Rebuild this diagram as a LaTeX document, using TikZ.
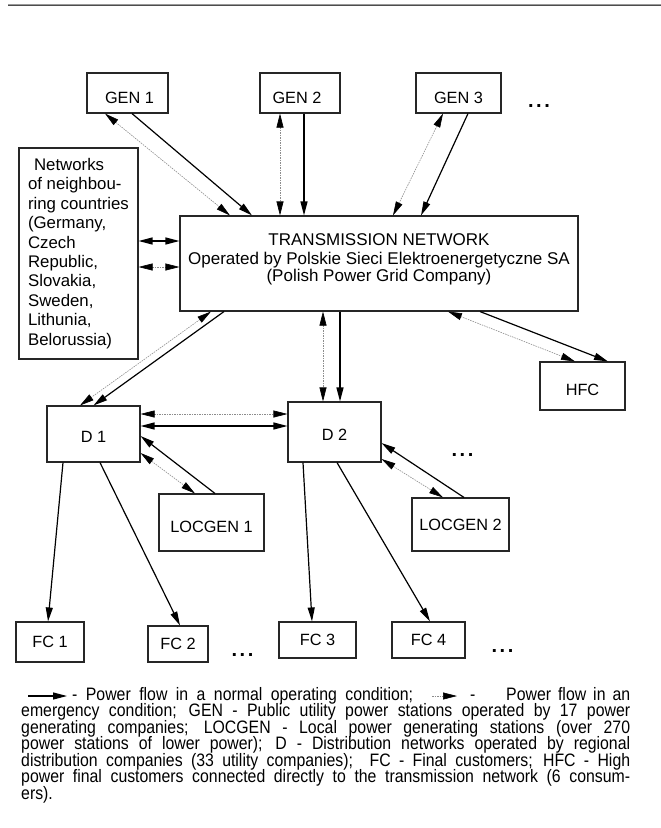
\documentclass[tikz,border=0pt]{standalone}
\usepackage{fontspec}
\setmainfont{Liberation Sans}
\newfontfamily\legfont{Liberation Sans}[FakeStretch=0.88]
\usetikzlibrary{arrows.meta}
\newcommand\lowr[2]{\raisebox{-#1}[\height][\depth]{#2}}
\tikzset{
  hd/.tip={Triangle[length=14pt,width=7pt,color=black,fill=black]},
  box/.style={draw=black!85, line width=1.1pt, inner sep=0pt, text=black,
    font=\fontsize{16.3}{19}\selectfont},
  normal/.style={line width=1.2pt, draw=black},
  emerg/.style={line width=0.6pt, draw=black!45, dash pattern=on 1.5pt off 1pt},
  dots/.style={inner sep=0pt, font=\fontsize{20}{20}\selectfont\bfseries},
  legtext/.style={inner sep=0pt, anchor=base west, font=\legfont\fontsize{18}{16.5}\selectfont},
}
\begin{document}
\begin{tikzpicture}[x=1pt,y=-1pt]
\useasboundingbox (0,0) rectangle (661,828);
% top rule
\draw[black!40, line width=0.8pt] (8,4.2) -- (661,4.2);
\draw[black!70, line width=1pt] (8,5.4) -- (661,5.4);

% boxes
\node[box, minimum width=81pt, minimum height=40pt] (gen1) at (127.5,93) {\lowr{4.5pt}{\hspace*{4pt}GEN 1}};
\node[box, minimum width=80pt, minimum height=40pt] (gen2) at (300,93) {\lowr{4.5pt}{GEN 2\hspace*{6pt}}};
\node[box, minimum width=85pt, minimum height=40pt] (gen3) at (458.5,93) {\lowr{4.5pt}{GEN 3}};
\node[box, minimum width=119pt, minimum height=211pt, align=left,
      font=\fontsize{16.8}{19.4}\selectfont] (net) at (78.5,253.5)
  {\hspace*{6pt}Networks\\of neighbou-\\ring countries\\(Germany,\\Czech\\Republic,\\Slovakia,\\Sweden,\\Lithunia,\\Belorussia)};
\node[box, minimum width=398pt, minimum height=95pt, align=center,
      font=\fontsize{17}{17.5}\selectfont] (tn) at (379,263.5)
  {TRANSMISSION NETWORK\\[1pt]Operated by Polskie Sieci Elektroenergetyczne SA\\(Polish Power Grid Company)\\[-6pt]\mbox{}};
\node[box, minimum width=85pt, minimum height=48pt] (hfc) at (582.5,386) {\lowr{4pt}{HFC}};
\node[box, minimum width=93pt, minimum height=56pt] (d1) at (93.5,434) {\lowr{2.5pt}{D 1}};
\node[box, minimum width=93pt, minimum height=60pt] (d2) at (334.5,432) {\lowr{2.5pt}{D 2}};
\node[box, minimum width=105pt, minimum height=57pt] (loc1) at (211.5,522.5) {\lowr{4pt}{LOCGEN 1}};
\node[box, minimum width=97pt, minimum height=53pt] (loc2) at (460.5,524.5) {LOCGEN 2};
\node[box, minimum width=68pt, minimum height=40pt] (fc1) at (50,642) {FC 1};
\node[box, minimum width=60pt, minimum height=36pt] (fc2) at (178,644) {FC 2};
\node[box, minimum width=77pt, minimum height=36pt] (fc3) at (317.5,640) {FC 3};
\node[box, minimum width=73pt, minimum height=36pt] (fc4) at (428.5,640) {FC 4};

% ellipses
\node[dots] (e1) at (539,106) {.\hspace{2.5pt}.\hspace{2.5pt}.};
\node[dots] (e2) at (462.5,455.5) {.\hspace{2.5pt}.\hspace{2.5pt}.};
\node[dots] (e3) at (242.5,655) {.\hspace{2.5pt}.\hspace{2.5pt}.};
\node[dots] (e4) at (502.5,651) {.\hspace{2.5pt}.\hspace{2.5pt}.};

% GEN connectors
\draw[emerg, {hd}-{hd}] ([xshift=-22.5pt]gen1.south) -- ([xshift=-149pt]tn.north);
\draw[normal, -{hd}] ([xshift=4.5pt]gen1.south) -- ([xshift=-127pt]tn.north);
\draw[emerg, {hd}-{hd}] ([xshift=-20pt]gen2.south) -- ([xshift=-99pt]tn.north);
\draw[normal, -{hd}] ([xshift=4pt]gen2.south) -- ([xshift=-75pt]tn.north);
\draw[emerg, {hd}-{hd}] ([xshift=-15.5pt]gen3.south) -- ([xshift=14pt]tn.north);
\draw[normal, -{hd}] ([xshift=9.5pt]gen3.south) -- ([xshift=42pt]tn.north);

% neighbouring networks
\draw[normal, {hd}-{hd}] ([yshift=12.5pt]net.east) -- ([yshift=22.5pt]tn.west);
\draw[emerg, {hd}-{hd}] ([yshift=-13.5pt]net.east) -- ([yshift=-3.5pt]tn.west);

% TN to D1, D2, HFC
\draw[emerg, {hd}-{hd}] ([xshift=-168pt]tn.south) -- ([xshift=-13.5pt]d1.north);
\draw[normal, -{hd}] ([xshift=-155pt]tn.south) -- ([xshift=0pt]d1.north);
\draw[emerg, {hd}-{hd}] ([xshift=-56pt]tn.south) -- ([xshift=-11.5pt]d2.north);
\draw[normal, -{hd}] ([xshift=-39pt]tn.south) -- ([xshift=5.5pt]d2.north);
\draw[emerg, {hd}-{hd}] ([xshift=69pt]tn.south) -- ([xshift=-7.5pt]hfc.north);
\draw[normal, -{hd}] ([xshift=101pt]tn.south) -- ([xshift=25.5pt]hfc.north);

% D1 - D2
\draw[emerg, {hd}-{hd}] ([yshift=20pt]d1.east) -- ([yshift=18pt]d2.west);
\draw[normal, {hd}-{hd}] ([yshift=8pt]d1.east) -- ([yshift=6pt]d2.west);

% LOCGEN
\draw[normal, -{hd}] ([xshift=3.5pt]loc1.north) -- ([yshift=-2pt]d1.east);
\draw[emerg, {hd}-{hd}] ([yshift=-19pt]d1.east) -- ([xshift=-16.5pt]loc1.north);
\draw[normal, -{hd}] ([xshift=3.5pt]loc2.north) -- ([yshift=-11pt]d2.east);
\draw[emerg, {hd}-{hd}] ([yshift=-27pt]d2.east) -- ([xshift=-17.5pt]loc2.north);

% final customers
\draw[normal, -{hd}] ([xshift=-30.5pt]d1.south) -- ([xshift=-2pt]fc1.north);
\draw[normal, -{hd}] ([xshift=6.5pt]d1.south) -- ([xshift=2pt]fc2.north);
\draw[normal, -{hd}] ([xshift=-31.5pt]d2.south) -- ([xshift=-5.5pt]fc3.north);
\draw[normal, -{hd}] ([xshift=2.5pt]d2.south) -- ([xshift=1.5pt]fc4.north);

% legend
\coordinate (la) at (28,696);
\coordinate (lb) at (67,696);
\coordinate (lc) at (432,696);
\coordinate (ld) at (457,696);
\draw[normal, -{hd}] (la) -- (lb);
\draw[emerg, -{hd}] (lc) -- (ld);
\node[legtext] (t1a) at (72,700) {\makebox[341pt][s]{- Power flow in a normal operating condition;}};
\node[legtext] (t1b) at (470,700) {-};
\node[legtext] (t1c) at (506,700) {\makebox[124pt][s]{Power flow in an}};
\node[legtext] (t2) at (21,716.5) {\makebox[609pt][s]{emergency condition; GEN - Public utility power stations operated by 17 power}};
\node[legtext] (t3) at (21,733) {\makebox[609pt][s]{generating companies; LOCGEN - Local power generating stations (over 270}};
\node[legtext] (t4) at (21,749.5) {\makebox[609pt][s]{power stations of lower power); D - Distribution networks operated by regional}};
\node[legtext] (t5) at (21,766) {\makebox[609pt][s]{distribution companies (33 utility companies);\ \ FC - Final customers; HFC - High}};
\node[legtext] (t6) at (21,782.5) {\makebox[609pt][s]{power final customers connected directly to the transmission network (6 consum-}};
\node[legtext] (t7) at (21,799) {ers).};
\end{tikzpicture}
\end{document}
